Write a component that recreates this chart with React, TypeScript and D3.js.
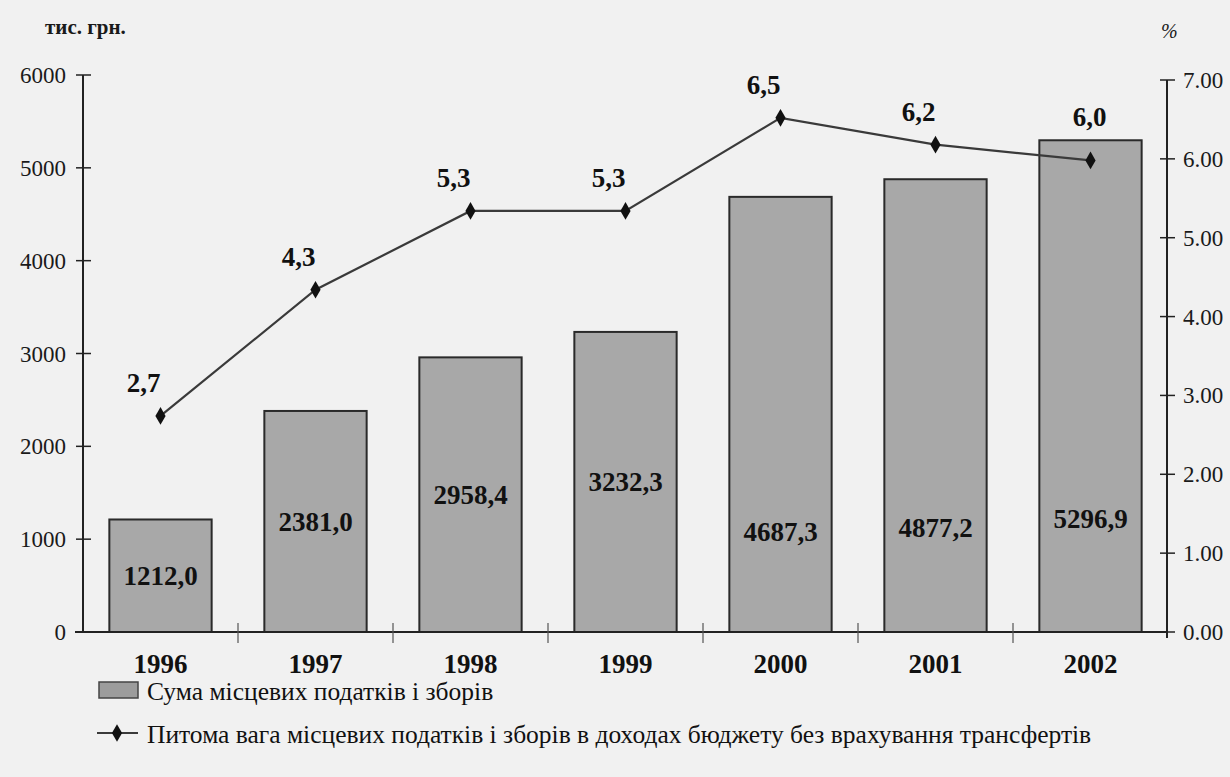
import React from "react";
import * as d3 from "d3";

const years = ["1996", "1997", "1998", "1999", "2000", "2001", "2002"];
const taxSums = [1212.0, 2381.0, 2958.4, 3232.3, 4687.3, 4877.2, 5296.9];
const shares = [2.74, 4.34, 5.34, 5.34, 6.52, 6.18, 5.98];
const leftTicks = [0, 1000, 2000, 3000, 4000, 5000, 6000];
const rightTicks = [0, 1, 2, 3, 4, 5, 6, 7];
const leftUnit = "тис. грн.";
const rightUnit = "%";
const legendBars = "Сума місцевих податків і зборів";
const legendLine = "Питома вага місцевих податків і зборів в доходах бюджету без врахування трансфертів";

const W = 1230;
const H = 777;
const SERIF = "Liberation Serif";

export default function App() {
  const x = d3.scaleBand<string>().domain(years).range([83, 1168]).paddingInner(0.34).paddingOuter(0.17);
  const yL = d3.scaleLinear().domain([0, 6000]).range([632, 75]);
  const yR = d3.scaleLinear().domain([0, 7]).range([632, 80]);
  const comma1 = (v: number) => d3.format(".1f")(v).replace(".", ",");
  const fmtR = d3.format(".2f");
  const step = x.step();
  const cx = (y: string) => (x(y) as number) + x.bandwidth() / 2;
  const ts = { fontFamily: SERIF };

  const line = d3
    .line<number>()
    .x((_, i) => cx(years[i]))
    .y((d) => yR(d));

  const diamond = d3.symbol().type(d3.symbolDiamond).size(90)();

  return (
    <svg width={W} height={H} style={{ position: "absolute", left: 0, top: 0, background: "#f1f1f1" }}>
      <rect x={0} y={0} width={W} height={H} fill="#f1f1f1" />
      {/* units */}
      <text x={45} y={34} fontSize={21} fontWeight="bold" fill="#1a1a1a" style={ts}>
        {leftUnit}
      </text>
      <text x={1161} y={38} fontSize={20} fontStyle="italic" fill="#1a1a1a" style={ts}>
        {rightUnit}
      </text>

      {/* bars */}
      {taxSums.map((v, i) => (
        <rect
          key={"b" + i}
          x={x(years[i])}
          y={yL(v)}
          width={x.bandwidth()}
          height={yL(0) - yL(v)}
          fill="#a8a8a8"
          stroke="#2a2a2a"
          strokeWidth={2}
        />
      ))}
      {taxSums.map((v, i) => (
        <text
          key={"bl" + i}
          x={cx(years[i])}
          y={yL(v < 4000 ? v / 2 : v * 0.23)}
          dy="0.35em"
          textAnchor="middle"
          fontSize={27}
          fontWeight="bold"
          fill="#111"
          style={ts}
        >
          {comma1(v)}
        </text>
      ))}

      {/* left axis */}
      <line x1={83} x2={83} y1={yL(6000)} y2={yL(0)} stroke="#222" strokeWidth={2} />
      {leftTicks.map((t) => (
        <g key={"lt" + t}>
          <line x1={76} x2={91} y1={yL(t)} y2={yL(t)} stroke="#222" strokeWidth={1.5} />
          <text x={66} y={yL(t)} dy="0.35em" textAnchor="end" fontSize={23} fill="#1a1a1a" style={ts}>
            {t}
          </text>
        </g>
      ))}

      {/* right axis */}
      <line x1={1167} x2={1167} y1={yR(7)} y2={yR(0) + 6} stroke="#222" strokeWidth={2} />
      {rightTicks.map((t) => (
        <g key={"rt" + t}>
          <line x1={1160} x2={1175} y1={yR(t)} y2={yR(t)} stroke="#222" strokeWidth={1.5} />
          <text x={1183} y={yR(t)} dy="0.35em" textAnchor="start" fontSize={23} fill="#1a1a1a" style={ts}>
            {fmtR(t)}
          </text>
        </g>
      ))}

      {/* baseline */}
      <line x1={75} x2={1168} y1={yL(0)} y2={yL(0)} stroke="#222" strokeWidth={2} />
      {years.slice(1).map((y, i) => (
        <line
          key={"ct" + i}
          x1={83 + (i + 1) * step}
          x2={83 + (i + 1) * step}
          y1={yL(0) - 9}
          y2={yL(0) + 11}
          stroke="#555"
          strokeWidth={1.2}
        />
      ))}
      {years.map((y) => (
        <text key={"xl" + y} x={cx(y)} y={664} dy="0.35em" textAnchor="middle" fontSize={27} fontWeight="bold" fill="#111" style={ts}>
          {y}
        </text>
      ))}

      {/* line series */}
      <path d={line(shares) || ""} fill="none" stroke="#3a3a3a" strokeWidth={2.2} />
      {shares.map((v, i) => (
        <path key={"m" + i} d={diamond || ""} transform={`translate(${cx(years[i])},${yR(v)})`} fill="#111" />
      ))}
      {shares.map((v, i) => (
        <text
          key={"ml" + i}
          x={cx(years[i]) + (i === shares.length - 1 ? -1 : -17)}
          y={yR(v) + (i === shares.length - 1 ? -44 : -33)}
          dy="0.35em"
          textAnchor="middle"
          fontSize={27}
          fontWeight="bold"
          fill="#111"
          style={ts}
        >
          {comma1(v)}
        </text>
      ))}

      {/* legend */}
      <rect x={99} y={682} width={39} height={16} fill="#9c9c9c" stroke="#444" strokeWidth={1.5} />
      <text x={147} y={691} dy="0.35em" fontSize={25.5} fill="#111" style={ts}>
        {legendBars}
      </text>
      <line x1={97} x2={138} y1={733} y2={733} stroke="#3a3a3a" strokeWidth={2.2} />
      <path d={diamond || ""} transform="translate(117,733)" fill="#111" />
      <text x={147} y={734} dy="0.35em" fontSize={25.5} fill="#111" style={ts}>
        {legendLine}
      </text>
    </svg>
  );
}
